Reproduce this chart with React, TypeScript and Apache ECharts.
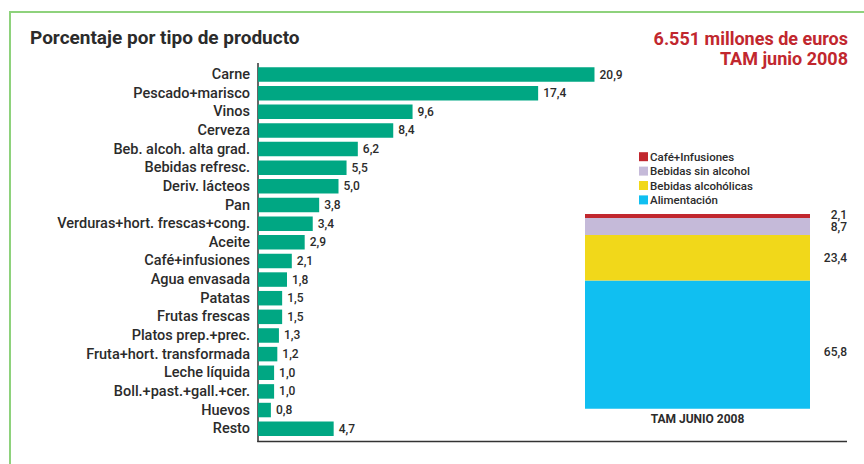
import React, { useEffect, useRef } from "react";
import * as echarts from "echarts";

const categories = [
  "Carne",
  "Pescado+marisco",
  "Vinos",
  "Cerveza",
  "Beb. alcoh. alta grad.",
  "Bebidas refresc.",
  "Deriv. lácteos",
  "Pan",
  "Verduras+hort. frescas+cong.",
  "Aceite",
  "Café+infusiones",
  "Agua envasada",
  "Patatas",
  "Frutas frescas",
  "Platos prep.+prec.",
  "Fruta+hort. transformada",
  "Leche líquida",
  "Boll.+past.+gall.+cer.",
  "Huevos",
  "Resto",
];
const values = [20.9, 17.4, 9.6, 8.4, 6.2, 5.5, 5.0, 3.8, 3.4, 2.9, 2.1, 1.8, 1.5, 1.5, 1.3, 1.2, 1.0, 1.0, 0.8, 4.7];

const stackCategory = ["TAM JUNIO 2008"];
const stackNames = ["Alimentación", "Bebidas alcohólicas", "Bebidas sin alcohol", "Café+Infusiones"];
const stackValues = [65.8, 23.4, 8.7, 2.1];
const legendOrder = ["Café+Infusiones", "Bebidas sin alcohol", "Bebidas alcohólicas", "Alimentación"];

const titleText = "Porcentaje por tipo de producto";
const subtitleLines = ["6.551 millones de euros", "TAM junio 2008"];

const stackColors = ["#10bff1", "#f1d81a", "#c5bad9", "#c1272e"];
const stackLabelPos = ["56%", "50%", "55%", "25%"];

const fmt = (v: number) => v.toFixed(1).replace(".", ",");
const NARROW = "'Roboto', sans-serif";
const LABEL_FONT = "Roboto, 'Noto Sans', sans-serif";

export default function App() {
  const ref = useRef<HTMLDivElement>(null);
  useEffect(() => {
    if (!ref.current) return;
    const chart = echarts.init(ref.current, null, { renderer: "svg" });
    const option: any = {
      animation: false,
      backgroundColor: "#ffffff",
      legend: {
        data: legendOrder,
        orient: "vertical",
        left: 634,
        top: 145,
        itemWidth: 9,
        itemHeight: 9,
        itemGap: 1,
        icon: "rect",
        textStyle: { fontFamily: NARROW, fontSize: 11.5, fontWeight: 500, color: "#2b2b2b", lineHeight: 13.4, padding: [0, 0, 0, -3] },
      },
      grid: [
        { left: 258, top: 65.2, width: 579.6, height: 372.8 },
        { left: 585, top: 214, width: 225, height: 194.7 },
      ],
      xAxis: [
        { gridIndex: 0, type: "value", min: 0, max: 36, show: false },
        {
          gridIndex: 1,
          type: "category",
          data: stackCategory,
          axisLine: { show: false },
          axisTick: { show: false },
          axisLabel: { margin: 4, fontFamily: NARROW, fontSize: 12, fontWeight: "bold", color: "#2b2b2b" },
        },
      ],
      yAxis: [
        {
          gridIndex: 0,
          type: "category",
          data: categories,
          inverse: true,
          axisLine: { show: false },
          axisTick: { show: false },
          axisLabel: { interval: 0, margin: 8, fontFamily: LABEL_FONT, fontSize: 14.5, fontWeight: 500, color: "#2b2b2b" },
        },
        { gridIndex: 1, type: "value", min: 0, max: 100, show: false },
      ],
      series: [
        {
          type: "bar",
          xAxisIndex: 0,
          yAxisIndex: 0,
          data: values,
          barWidth: 14.5,
          itemStyle: { color: "#00a783" },
          label: {
            show: true,
            position: "right",
            distance: 5,
            formatter: (p: any) => fmt(p.value),
            fontFamily: NARROW,
            fontSize: 12,
            fontWeight: 500,
            color: "#2b2b2b",
          },
        },
        ...stackNames.map((name, i) => ({
          type: "bar",
          name,
          xAxisIndex: 1,
          yAxisIndex: 1,
          stack: "tam",
          barWidth: "100%",
          data: [stackValues[i]],
          itemStyle: { color: stackColors[i] },
          label: {
            show: true,
            position: [262, stackLabelPos[i]],
            align: "right",
            verticalAlign: "middle",
            formatter: (p: any) => fmt(p.value),
            fontFamily: NARROW,
            fontSize: 12,
            fontWeight: 500,
            color: "#2b2b2b",
          },
        })),
      ],
      graphic: [
        {
          type: "rect",
          shape: { x: 10, y: 12, width: 900, height: 500 },
          style: { fill: "none", stroke: "#8ed27c", lineWidth: 2 },
          silent: true,
        },
        {
          type: "text",
          left: 30,
          top: 28,
          style: { text: titleText, font: "bold 19px Roboto, sans-serif", fill: "#2b2b2b" },
          silent: true,
        },
        {
          type: "text",
          x: 848,
          y: 38,
          style: {
            text: subtitleLines[0],
            font: "bold 18px Roboto, sans-serif",
            fill: "#c1272e",
            textAlign: "right",
            textVerticalAlign: "middle",
          },
          silent: true,
        },
        {
          type: "text",
          x: 848,
          y: 58,
          style: {
            text: subtitleLines[1],
            font: "bold 18px Roboto, sans-serif",
            fill: "#c1272e",
            textAlign: "right",
            textVerticalAlign: "middle",
          },
          silent: true,
        },
        {
          type: "line",
          shape: { x1: 258, y1: 63, x2: 258, y2: 442 },
          style: { stroke: "#333333", lineWidth: 1.5 },
          silent: true,
        },
        {
          type: "line",
          shape: { x1: 257.25, y1: 441.5, x2: 847, y2: 441.5 },
          style: { stroke: "#333333", lineWidth: 1.5 },
          silent: true,
        },
      ],
    };
    chart.setOption(option);
    return () => chart.dispose();
  }, []);
  return (
    <div
      ref={ref}
      style={{ position: "fixed", left: 0, top: 0, width: 864, height: 464 }}
    />
  );
}
